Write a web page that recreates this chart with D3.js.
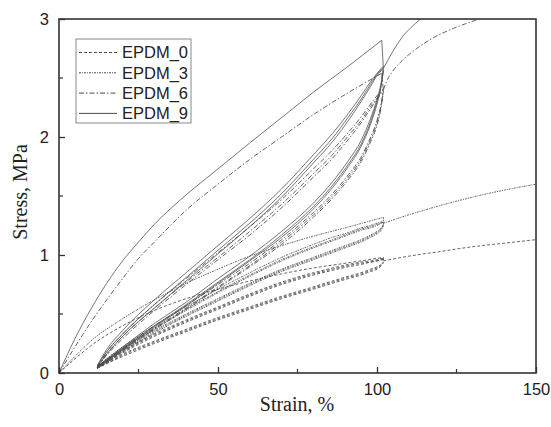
<!DOCTYPE html>
<html><head><meta charset="utf-8">
<script src="https://cdn.jsdelivr.net/npm/d3@7"></script>
<style>body{margin:0;background:#fff}svg{display:block}</style>
</head><body><svg id="c" width="551" height="427"></svg>
<script>
// ---------- DATA ----------
const seriesNames = ["EPDM_0", "EPDM_3", "EPDM_6", "EPDM_9"];
const xTicks = [0, 50, 100, 150];
const yTicks = [0, 1, 2, 3];

// first loading curves (strain %, stress MPa)
const firstStrain0 = [0, 5, 10, 20, 30, 40, 50, 60, 70, 80, 90, 102];
const firstStress0 = [0, 0.12, 0.23, 0.40, 0.53, 0.63, 0.71, 0.78, 0.84, 0.89, 0.93, 0.98];
const firstStrain3 = [0, 5, 10, 20, 30, 40, 50, 60, 70, 80, 90, 102];
const firstStress3 = [0, 0.14, 0.27, 0.46, 0.62, 0.76, 0.88, 0.99, 1.08, 1.16, 1.23, 1.32];
const firstStrain6 = [0, 5, 10, 15, 20, 25, 30, 40, 50, 60, 70, 80, 90, 101.5];
const firstStress6 = [0, 0.22, 0.43, 0.62, 0.80, 0.97, 1.11, 1.38, 1.60, 1.81, 2.00, 2.19, 2.36, 2.54];
const firstStrain9 = [0, 2, 5, 10, 15, 20, 25, 30, 40, 50, 60, 72.6, 80, 90, 101.5];
const firstStress9 = [0, 0.12, 0.29, 0.54, 0.76, 0.95, 1.11, 1.26, 1.51, 1.73, 1.95, 2.22, 2.38, 2.58, 2.82];

// cyclic loops: shared strain grid
const loopStrain = [12, 15, 20, 30, 40, 50, 60, 70, 80, 86, 91, 95, 98, 100, 101.3, 102];
const reload0 = [
  [0.05, 0.11, 0.19, 0.33, 0.45, 0.56, 0.67, 0.77, 0.85, 0.89, 0.92, 0.94, 0.95, 0.96, 0.97, 0.97],
  [0.05, 0.10, 0.18, 0.32, 0.44, 0.55, 0.66, 0.76, 0.84, 0.88, 0.91, 0.93, 0.94, 0.95, 0.96, 0.96],
  [0.04, 0.09, 0.17, 0.31, 0.43, 0.54, 0.65, 0.75, 0.83, 0.87, 0.90, 0.92, 0.94, 0.95, 0.96, 0.96]];
const unload0 = [
  [0.05, 0.09, 0.16, 0.27, 0.37, 0.47, 0.56, 0.65, 0.73, 0.78, 0.82, 0.85, 0.88, 0.90, 0.92, 0.94],
  [0.04, 0.08, 0.15, 0.26, 0.36, 0.46, 0.55, 0.64, 0.72, 0.77, 0.81, 0.84, 0.87, 0.89, 0.91, 0.94],
  [0.04, 0.08, 0.14, 0.25, 0.35, 0.45, 0.54, 0.63, 0.71, 0.76, 0.80, 0.83, 0.86, 0.88, 0.91, 0.93]];
const reload3 = [
  [0.05, 0.12, 0.22, 0.40, 0.56, 0.71, 0.85, 0.98, 1.09, 1.15, 1.19, 1.23, 1.25, 1.27, 1.28, 1.29],
  [0.05, 0.11, 0.21, 0.38, 0.54, 0.69, 0.83, 0.96, 1.07, 1.13, 1.18, 1.22, 1.24, 1.26, 1.27, 1.28],
  [0.05, 0.10, 0.20, 0.37, 0.53, 0.68, 0.82, 0.95, 1.06, 1.12, 1.17, 1.21, 1.23, 1.25, 1.27, 1.28]];
const unload3 = [
  [0.05, 0.11, 0.20, 0.36, 0.50, 0.63, 0.76, 0.88, 0.98, 1.04, 1.09, 1.13, 1.17, 1.20, 1.23, 1.26],
  [0.04, 0.10, 0.19, 0.35, 0.49, 0.62, 0.75, 0.87, 0.97, 1.03, 1.08, 1.12, 1.16, 1.19, 1.22, 1.25],
  [0.04, 0.09, 0.18, 0.34, 0.48, 0.61, 0.74, 0.86, 0.96, 1.02, 1.07, 1.11, 1.15, 1.18, 1.21, 1.25]];
const reload6 = [
  [0.05, 0.18, 0.33, 0.58, 0.80, 1.02, 1.24, 1.47, 1.73, 1.89, 2.04, 2.17, 2.28, 2.35, 2.39, 2.41],
  [0.05, 0.16, 0.31, 0.55, 0.77, 0.98, 1.20, 1.43, 1.69, 1.85, 2.01, 2.14, 2.26, 2.33, 2.38, 2.40],
  [0.05, 0.15, 0.29, 0.53, 0.75, 0.96, 1.17, 1.40, 1.66, 1.82, 1.98, 2.12, 2.24, 2.32, 2.37, 2.39]];
const unload6 = [
  [0.05, 0.11, 0.21, 0.40, 0.57, 0.75, 0.93, 1.13, 1.36, 1.52, 1.68, 1.83, 2.00, 2.14, 2.28, 2.40],
  [0.05, 0.10, 0.20, 0.38, 0.55, 0.73, 0.91, 1.11, 1.34, 1.50, 1.66, 1.81, 1.98, 2.12, 2.27, 2.39],
  [0.04, 0.09, 0.19, 0.37, 0.54, 0.72, 0.90, 1.09, 1.32, 1.48, 1.64, 1.79, 1.96, 2.10, 2.25, 2.38]];
const reload9 = [
  [0.06, 0.20, 0.36, 0.62, 0.85, 1.08, 1.31, 1.56, 1.85, 2.03, 2.20, 2.35, 2.47, 2.54, 2.58, 2.60],
  [0.06, 0.18, 0.33, 0.58, 0.81, 1.04, 1.27, 1.52, 1.81, 1.99, 2.17, 2.32, 2.45, 2.53, 2.57, 2.59],
  [0.05, 0.16, 0.31, 0.55, 0.78, 1.01, 1.24, 1.49, 1.78, 1.96, 2.14, 2.30, 2.43, 2.52, 2.56, 2.58]];
const unload9 = [
  [0.05, 0.12, 0.22, 0.42, 0.60, 0.80, 0.99, 1.20, 1.44, 1.62, 1.80, 1.97, 2.16, 2.32, 2.46, 2.58],
  [0.05, 0.11, 0.21, 0.40, 0.58, 0.77, 0.96, 1.17, 1.41, 1.59, 1.77, 1.94, 2.13, 2.30, 2.44, 2.57],
  [0.05, 0.10, 0.20, 0.39, 0.57, 0.76, 0.95, 1.15, 1.39, 1.57, 1.75, 1.92, 2.11, 2.28, 2.43, 2.56]];

// final loading beyond the cycles
const finalStrain0 = [102, 110, 120, 130, 140, 150];
const finalStress0 = [0.95, 0.99, 1.03, 1.07, 1.10, 1.13];
const finalStrain3 = [102, 110, 120, 130, 140, 150];
const finalStress3 = [1.27, 1.34, 1.42, 1.49, 1.55, 1.60];
const finalStrain6 = [102, 103, 105, 108, 112, 117, 124, 131, 134];
const finalStress6 = [2.40, 2.47, 2.56, 2.65, 2.74, 2.83, 2.92, 2.99, 3.02];
const finalStrain9 = [102, 104, 106, 108, 110.4, 113.7, 116];
const finalStress9 = [2.58, 2.68, 2.77, 2.85, 2.92, 3.00, 3.05];

// ---------- CHART ----------
const svg = d3.select("#c");
const m = {l: 59, r: 15, t: 19, b: 54};
const W = 551, H = 427;
const x = d3.scaleLinear().domain([0, 150]).range([m.l, W - m.r]);
const y = d3.scaleLinear().domain([0, 3]).range([H - m.b, m.t]);

const dashes = {"EPDM_0": "3,2", "EPDM_3": "2,1,1,1", "EPDM_6": "5,2,1.5,2", "EPDM_9": null};
const col = "#4a4a4a";

svg.append("defs").append("clipPath").attr("id", "clip")
  .append("rect").attr("x", m.l).attr("y", m.t).attr("width", W - m.l - m.r).attr("height", H - m.t - m.b);

const line = d3.line().x(d => x(d[0])).y(d => y(d[1])).curve(d3.curveMonotoneX);
const g = svg.append("g").attr("clip-path", "url(#clip)");

function draw(xs, ys, name) {
  g.append("path").datum(xs.map((v, i) => [v, ys[i]]))
    .attr("d", line).attr("fill", "none").attr("stroke", col)
    .attr("stroke-width", name === "EPDM_9" ? 0.9 : 1)
    .attr("stroke-opacity", 0.85)
    .attr("stroke-dasharray", dashes[name]);
}

const sets = [
  ["EPDM_0", firstStrain0, firstStress0, reload0, unload0, finalStrain0, finalStress0],
  ["EPDM_3", firstStrain3, firstStress3, reload3, unload3, finalStrain3, finalStress3],
  ["EPDM_6", firstStrain6, firstStress6, reload6, unload6, finalStrain6, finalStress6],
  ["EPDM_9", firstStrain9, firstStress9, reload9, unload9, finalStrain9, finalStress9]
];
sets.forEach(([name, fs, fy, rl, ul, ps, py]) => {
  draw(fs, fy, name);
  // drop from first peak to the loop top
  draw([fs[fs.length - 1], 102], [fy[fy.length - 1], ul[0][ul[0].length - 1]], name);
  rl.forEach(c => draw(loopStrain, c, name));
  ul.forEach(c => draw(loopStrain, c, name));
  draw(ps, py, name);
});

// frame
svg.append("rect").attr("x", m.l).attr("y", m.t).attr("width", W - m.l - m.r).attr("height", H - m.t - m.b)
  .attr("fill", "none").attr("stroke", "#333").attr("stroke-width", 1.6);

// axes (ticks inward)
const xAxis = d3.axisBottom(x).tickValues(xTicks).tickSize(-6).tickPadding(10).tickFormat(d3.format("d"));
const yAxis = d3.axisLeft(y).tickValues(yTicks).tickSize(-6).tickPadding(10).tickFormat(d3.format("d"));
const gx = svg.append("g").attr("transform", `translate(0,${H - m.b})`).call(xAxis);
const gy = svg.append("g").attr("transform", `translate(${m.l},0)`).call(yAxis);
[gx, gy].forEach(a => {
  a.select(".domain").remove();
  a.selectAll("line").attr("stroke", "#333").attr("stroke-width", 1.3);
  a.selectAll("text").attr("font-family", "Liberation Sans, Arial, sans-serif").attr("font-size", 16.5).attr("fill", "#222");
});
// minor ticks
const xMinor = [25, 75, 125];
const yMinor = [0.5, 1.5, 2.5];
svg.append("g").selectAll("line").data(xMinor).join("line")
  .attr("x1", d => x(d)).attr("x2", d => x(d)).attr("y1", H - m.b).attr("y2", H - m.b - 4)
  .attr("stroke", "#333").attr("stroke-width", 1.2);
svg.append("g").selectAll("line").data(yMinor).join("line")
  .attr("y1", d => y(d)).attr("y2", d => y(d)).attr("x1", m.l).attr("x2", m.l + 4)
  .attr("stroke", "#333").attr("stroke-width", 1.2);

// axis titles
svg.append("text").attr("x", 297).attr("y", 411).attr("text-anchor", "middle")
  .attr("font-family", "Liberation Serif, Times New Roman, serif").attr("font-size", 20).attr("fill", "#222")
  .text("Strain, %");
svg.append("text").attr("transform", `translate(27,192) rotate(-90)`).attr("text-anchor", "middle")
  .attr("font-family", "Liberation Serif, Times New Roman, serif").attr("font-size", 20).attr("fill", "#222")
  .text("Stress, MPa");

// legend
const lg = svg.append("g");
lg.append("rect").attr("x", 76).attr("y", 39).attr("width", 115).attr("height", 84)
  .attr("fill", "#fff").attr("stroke", "#888").attr("stroke-width", 1);
seriesNames.forEach((n, i) => {
  const yy = 52.5 + i * 20.3;
  lg.append("line").attr("x1", 79).attr("x2", 117).attr("y1", yy).attr("y2", yy)
    .attr("stroke", col).attr("stroke-width", 1).attr("stroke-dasharray", dashes[n]);
  lg.append("text").attr("x", 122).attr("y", yy).attr("dy", "0.36em")
    .attr("font-family", "Liberation Sans, Arial, sans-serif").attr("font-size", 16.5).attr("fill", "#222")
    .text(n);
});
</script></body></html>
